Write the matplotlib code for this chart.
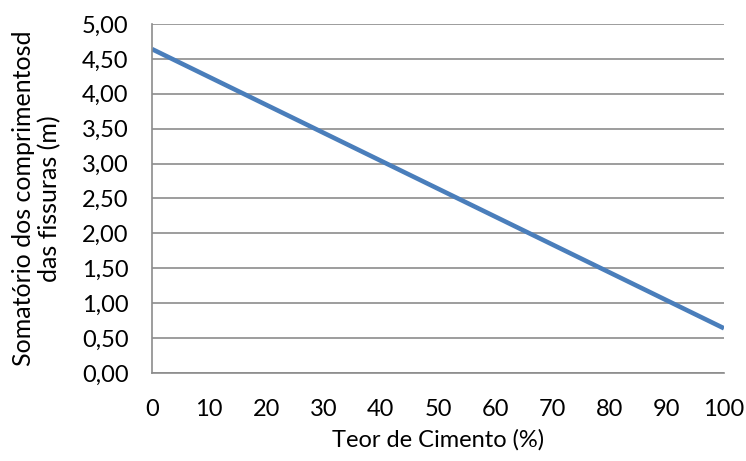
import matplotlib.pyplot as plt
from matplotlib.ticker import FuncFormatter

teor = [0, 10, 20, 30, 40, 50, 60, 70, 80, 90, 100]
fissuras = [4.64, 4.24, 3.84, 3.44, 3.04, 2.64, 2.24, 1.84, 1.44, 1.04, 0.64]
y_ticks = [0, 0.5, 1, 1.5, 2, 2.5, 3, 3.5, 4, 4.5, 5]

plt.rcParams['font.family'] = ['Lato', 'DejaVu Sans']
plt.rcParams['font.size'] = 17

fig = plt.figure(figsize=(7.46, 4.61), dpi=100)
ax = fig.add_axes([0.2038, 0.1909, 0.7667, 0.7571])

ax.plot(teor, fissuras, color='#4A7EBB', lw=3.3, solid_capstyle='butt')

ax.set_xlim(0, 100)
ax.set_ylim(0, 5)
ax.set_xticks(teor)
ax.set_yticks(y_ticks)
ax.yaxis.set_major_formatter(FuncFormatter(lambda v, p: f"{v:.2f}".replace('.', ',')))
ax.grid(axis='y', color='#8C8C8C', lw=1.2)
ax.set_axisbelow(True)
for s in ['top', 'right']:
    ax.spines[s].set_visible(False)
for s in ['left', 'bottom']:
    ax.spines[s].set_color('#8C8C8C')
    ax.spines[s].set_linewidth(1.2)
ax.tick_params(axis='y', length=0, pad=17)
ax.tick_params(axis='x', length=0, pad=19)

ax.set_xlabel("Teor de Cimento (%)", labelpad=6)
ax.set_ylabel("Somatório dos comprimentosd\ndas fissuras (m)", labelpad=15,
              fontsize=18, linespacing=1.12)

fig.savefig("out.png", dpi=100)
